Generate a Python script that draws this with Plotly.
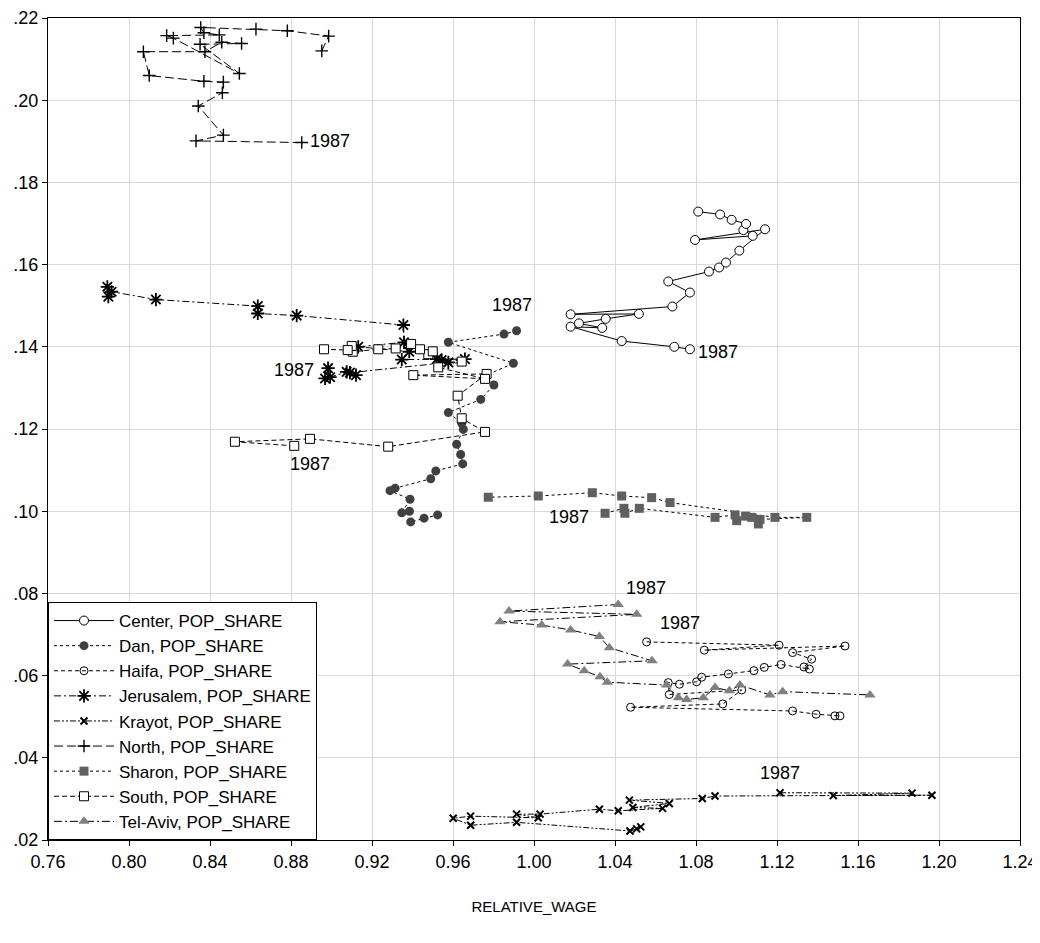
import plotly.graph_objects as go

# relative wage (x) and population share (y) by region, first point is 1987
center_x = [1.0770, 1.0693, 1.0433, 1.0181, 1.0337, 1.0222, 1.0354, 1.0518, 1.0181, 1.0683, 1.0770, 1.0663,
            1.0864, 1.0914, 1.0948, 1.1014, 1.1141, 1.0795, 1.1080, 1.1034, 1.1047, 1.0976, 1.0919, 1.0811]
center_y = [0.1394, 0.1400, 0.1414, 0.1449, 0.1446, 0.1457, 0.1468, 0.1480, 0.1479, 0.1498, 0.1532, 0.1559,
            0.1583, 0.1593, 0.1605, 0.1634, 0.1686, 0.1660, 0.1670, 0.1684, 0.1699, 0.1709, 0.1722, 0.1729]

dan_x = [0.9914, 0.9852, 0.9577, 0.9898, 0.9766, 0.9802, 0.9737, 0.9577, 0.9643, 0.9651, 0.9618, 0.9638,
         0.9648, 0.9515, 0.9490, 0.9314, 0.9289, 0.9388, 0.9347, 0.9385, 0.9391, 0.9457, 0.9524]
dan_y = [0.1439, 0.1431, 0.1411, 0.1360, 0.1331, 0.1307, 0.1272, 0.1240, 0.1214, 0.1199, 0.1163, 0.1138,
         0.1115, 0.1098, 0.1079, 0.1056, 0.1050, 0.1029, 0.0996, 0.1000, 0.0974, 0.0983, 0.0991]

haifa_x = [1.0556, 1.1210, 1.0841, 1.1536, 1.1277, 1.1371, 1.1333, 1.1360, 1.1220, 1.1137, 1.1086, 1.0960,
           1.0828, 1.0803, 1.0718, 1.0663, 1.0668, 1.1026, 1.0932, 1.0477, 1.1277, 1.1393, 1.1486, 1.1511]
haifa_y = [0.0682, 0.0674, 0.0662, 0.0672, 0.0656, 0.0640, 0.0621, 0.0616, 0.0627, 0.0620, 0.0612, 0.0604,
           0.0596, 0.0585, 0.0579, 0.0583, 0.0554, 0.0565, 0.0531, 0.0523, 0.0514, 0.0506, 0.0502, 0.0502]

jerusalem_x = [0.8983, 0.8968, 0.8993, 0.9075, 0.9121, 0.9091, 0.9577, 0.9544, 0.9519, 0.9659, 0.9347,
               0.9384, 0.9132, 0.9358, 0.9355, 0.8828, 0.8636, 0.8636, 0.8133, 0.7914, 0.7898, 0.7893]
jerusalem_y = [0.1348, 0.1323, 0.1326, 0.1339, 0.1331, 0.1337, 0.1362, 0.1368, 0.1370, 0.1370, 0.1369,
               0.1388, 0.1400, 0.1411, 0.1453, 0.1476, 0.1481, 0.1499, 0.1515, 0.1534, 0.1522, 0.1546]

krayot_x = [1.1215, 1.1867, 1.1478, 1.1965, 1.0894, 1.0831, 1.0471, 1.0668, 1.0488, 1.0635, 1.0416,
            1.0323, 1.0030, 0.9914, 1.0021, 0.9687, 0.9601, 0.9687, 0.9914, 1.0474, 1.0507, 1.0527]
krayot_y = [0.0315, 0.0314, 0.0308, 0.0309, 0.0307, 0.0301, 0.0297, 0.0289, 0.0279, 0.0277, 0.0271,
            0.0275, 0.0263, 0.0263, 0.0254, 0.0258, 0.0253, 0.0236, 0.0243, 0.0222, 0.0227, 0.0232]

north_x = [0.8853, 0.8331, 0.8466, 0.8342, 0.8461, 0.8466, 0.8370, 0.8100, 0.8071, 0.8375, 0.8458,
           0.8556, 0.8351, 0.8545, 0.8219, 0.8186, 0.8446, 0.8370, 0.8354, 0.8627, 0.8782, 0.8986, 0.8952]
north_y = [0.1897, 0.1901, 0.1915, 0.1986, 0.2018, 0.2044, 0.2046, 0.2060, 0.2118, 0.2118, 0.2141,
           0.2138, 0.2136, 0.2065, 0.2151, 0.2157, 0.2159, 0.2164, 0.2177, 0.2173, 0.2169, 0.2156, 0.2120]

sharon_x = [1.0351, 1.0444, 1.0449, 1.0520, 1.0894, 1.0993, 1.1001, 1.1045, 1.1108, 1.1075, 1.1116,
            1.1347, 1.1190, 1.0672, 1.0581, 1.0433, 1.0288, 1.0021, 0.9774]
sharon_y = [0.0995, 0.1007, 0.0995, 0.1007, 0.0985, 0.0991, 0.0977, 0.0988, 0.0969, 0.0985, 0.0980,
            0.0985, 0.0985, 0.1021, 0.1033, 0.1037, 0.1045, 0.1037, 0.1034]

south_x = [0.8816, 0.8523, 0.8894, 0.9280, 0.9758, 0.9643, 0.9623, 0.9766, 0.9404, 0.9758, 0.9527,
           0.9643, 0.9478, 0.9500, 0.9437, 0.9393, 0.9317, 0.9231, 0.9105, 0.9100, 0.9080, 0.8963]
south_y = [0.1159, 0.1169, 0.1176, 0.1157, 0.1193, 0.1226, 0.1281, 0.1334, 0.1331, 0.1322, 0.1350,
           0.1364, 0.1382, 0.1389, 0.1394, 0.1407, 0.1396, 0.1394, 0.1388, 0.1402, 0.1392, 0.1394]

telaviv_x = [1.0416, 0.9877, 1.0507, 0.9832, 1.0038, 1.0181, 1.0323, 1.0372, 1.0583, 1.0166, 1.0248,
             1.0326, 1.0362, 1.0655, 1.0713, 1.0754, 1.0836, 1.0894, 1.0965, 1.1017, 1.1165, 1.1228, 1.1659]
telaviv_y = [0.0773, 0.0757, 0.0749, 0.0731, 0.0723, 0.0711, 0.0695, 0.0668, 0.0636, 0.0628, 0.0612,
             0.0597, 0.0584, 0.0577, 0.0546, 0.0542, 0.0546, 0.0571, 0.0563, 0.0577, 0.0553, 0.0561, 0.0553]

y_ticks = [0.02, 0.04, 0.06, 0.08, 0.10, 0.12, 0.14, 0.16, 0.18, 0.20, 0.22]
y_tick_text = ['.02', '.04', '.06', '.08', '.10', '.12', '.14', '.16', '.18', '.20', '.22']
x_ticks = [0.76, 0.80, 0.84, 0.88, 0.92, 0.96, 1.00, 1.04, 1.08, 1.12, 1.16, 1.20, 1.24]

series = [
    ('Center', center_x, center_y, dict(symbol='circle', size=9, color='white', line=dict(color='black', width=1)), 'solid'),
    ('Dan', dan_x, dan_y, dict(symbol='circle', size=9, color='#404040', line=dict(width=0)), 'dot'),
    ('Haifa', haifa_x, haifa_y, dict(symbol='circle-open', size=8, color='black', line=dict(width=1)), '4px,3px'),
    ('Jerusalem', jerusalem_x, jerusalem_y, dict(symbol='asterisk-open', size=11, color='black', line=dict(width=1.8)), '7px,3px,2px,3px'),
    ('Krayot', krayot_x, krayot_y, dict(symbol='x-thin-open', size=7, color='black', line=dict(width=2)), '6px,2px,2px,2px,2px,2px'),
    ('North', north_x, north_y, dict(symbol='cross-thin-open', size=9, color='black', line=dict(width=1.4)), '9px,4px'),
    ('Sharon', sharon_x, sharon_y, dict(symbol='square', size=9, color='#606060', line=dict(width=0)), '3px,3px'),
    ('South', south_x, south_y, dict(symbol='square', size=9, color='white', line=dict(color='black', width=1)), '5px,3px'),
    ('Tel-Aviv', telaviv_x, telaviv_y, dict(symbol='triangle-up', size=10, color='#808080', line=dict(width=0)), '8px,3px,2px,3px'),
]

fig = go.Figure()
for name, xs, ys, mk, dash in series:
    fig.add_trace(go.Scatter(
        x=xs, y=ys, name=name + ', POP_SHARE',
        mode='lines+markers',
        line=dict(color='black', width=1, dash=dash),
        marker=mk,
    ))

# where the "1987" tag sits relative to the first point of each series
label_offsets = {
    'Center': dict(xanchor='left', xshift=6, yshift=-3),
    'Dan': dict(xanchor='center', xshift=-5, yshift=26),
    'Haifa': dict(xanchor='center', xshift=33, yshift=19),
    'Jerusalem': dict(xanchor='right', xshift=-12, yshift=-2),
    'Krayot': dict(xanchor='center', xshift=0, yshift=20),
    'North': dict(xanchor='left', xshift=6, yshift=2),
    'Sharon': dict(xanchor='right', xshift=-14, yshift=-4),
    'South': dict(xanchor='center', xshift=16, yshift=-18),
    'Tel-Aviv': dict(xanchor='center', xshift=28, yshift=17),
}
for name, xs, ys, mk, dash in series:
    fig.add_annotation(x=xs[0], y=ys[0], text='1987', showarrow=False,
                       font=dict(size=18, color='black'), yanchor='middle',
                       **label_offsets[name])

# the page body adds an 8px margin, so the figure is 8px smaller than the window
fig.update_layout(
    width=1032, height=935,
    margin=dict(l=40, r=20, t=10, b=103),
    plot_bgcolor='white', paper_bgcolor='white',
    font=dict(family='Liberation Sans, Arial', size=17, color='black'),
    showlegend=True,
    legend=dict(
        x=0, y=0, xanchor='left', yanchor='bottom',
        bgcolor='white', bordercolor='black', borderwidth=1,
        font=dict(size=17), tracegroupgap=0, itemwidth=60,
    ),
    xaxis=dict(
        range=[0.76, 1.24], tickvals=x_ticks, tickformat='.2f',
        showgrid=True, gridcolor='#d9d9d9', gridwidth=1,
        showline=True, linecolor='black', linewidth=1, mirror=True,
        ticks='outside', ticklen=5, tickcolor='black', zeroline=False,
        tickfont=dict(size=18), automargin=False,
        title=dict(text='RELATIVE_WAGE', standoff=30, font=dict(size=15)),
    ),
    yaxis=dict(
        range=[0.02, 0.22], tickvals=y_ticks, ticktext=y_tick_text,
        showgrid=True, gridcolor='#d9d9d9', gridwidth=1,
        showline=True, linecolor='black', linewidth=1, mirror=True,
        ticks='outside', ticklen=5, tickcolor='black', zeroline=False,
        tickfont=dict(size=18), automargin=False,
    ),
)

fig.write_html('out.html')
